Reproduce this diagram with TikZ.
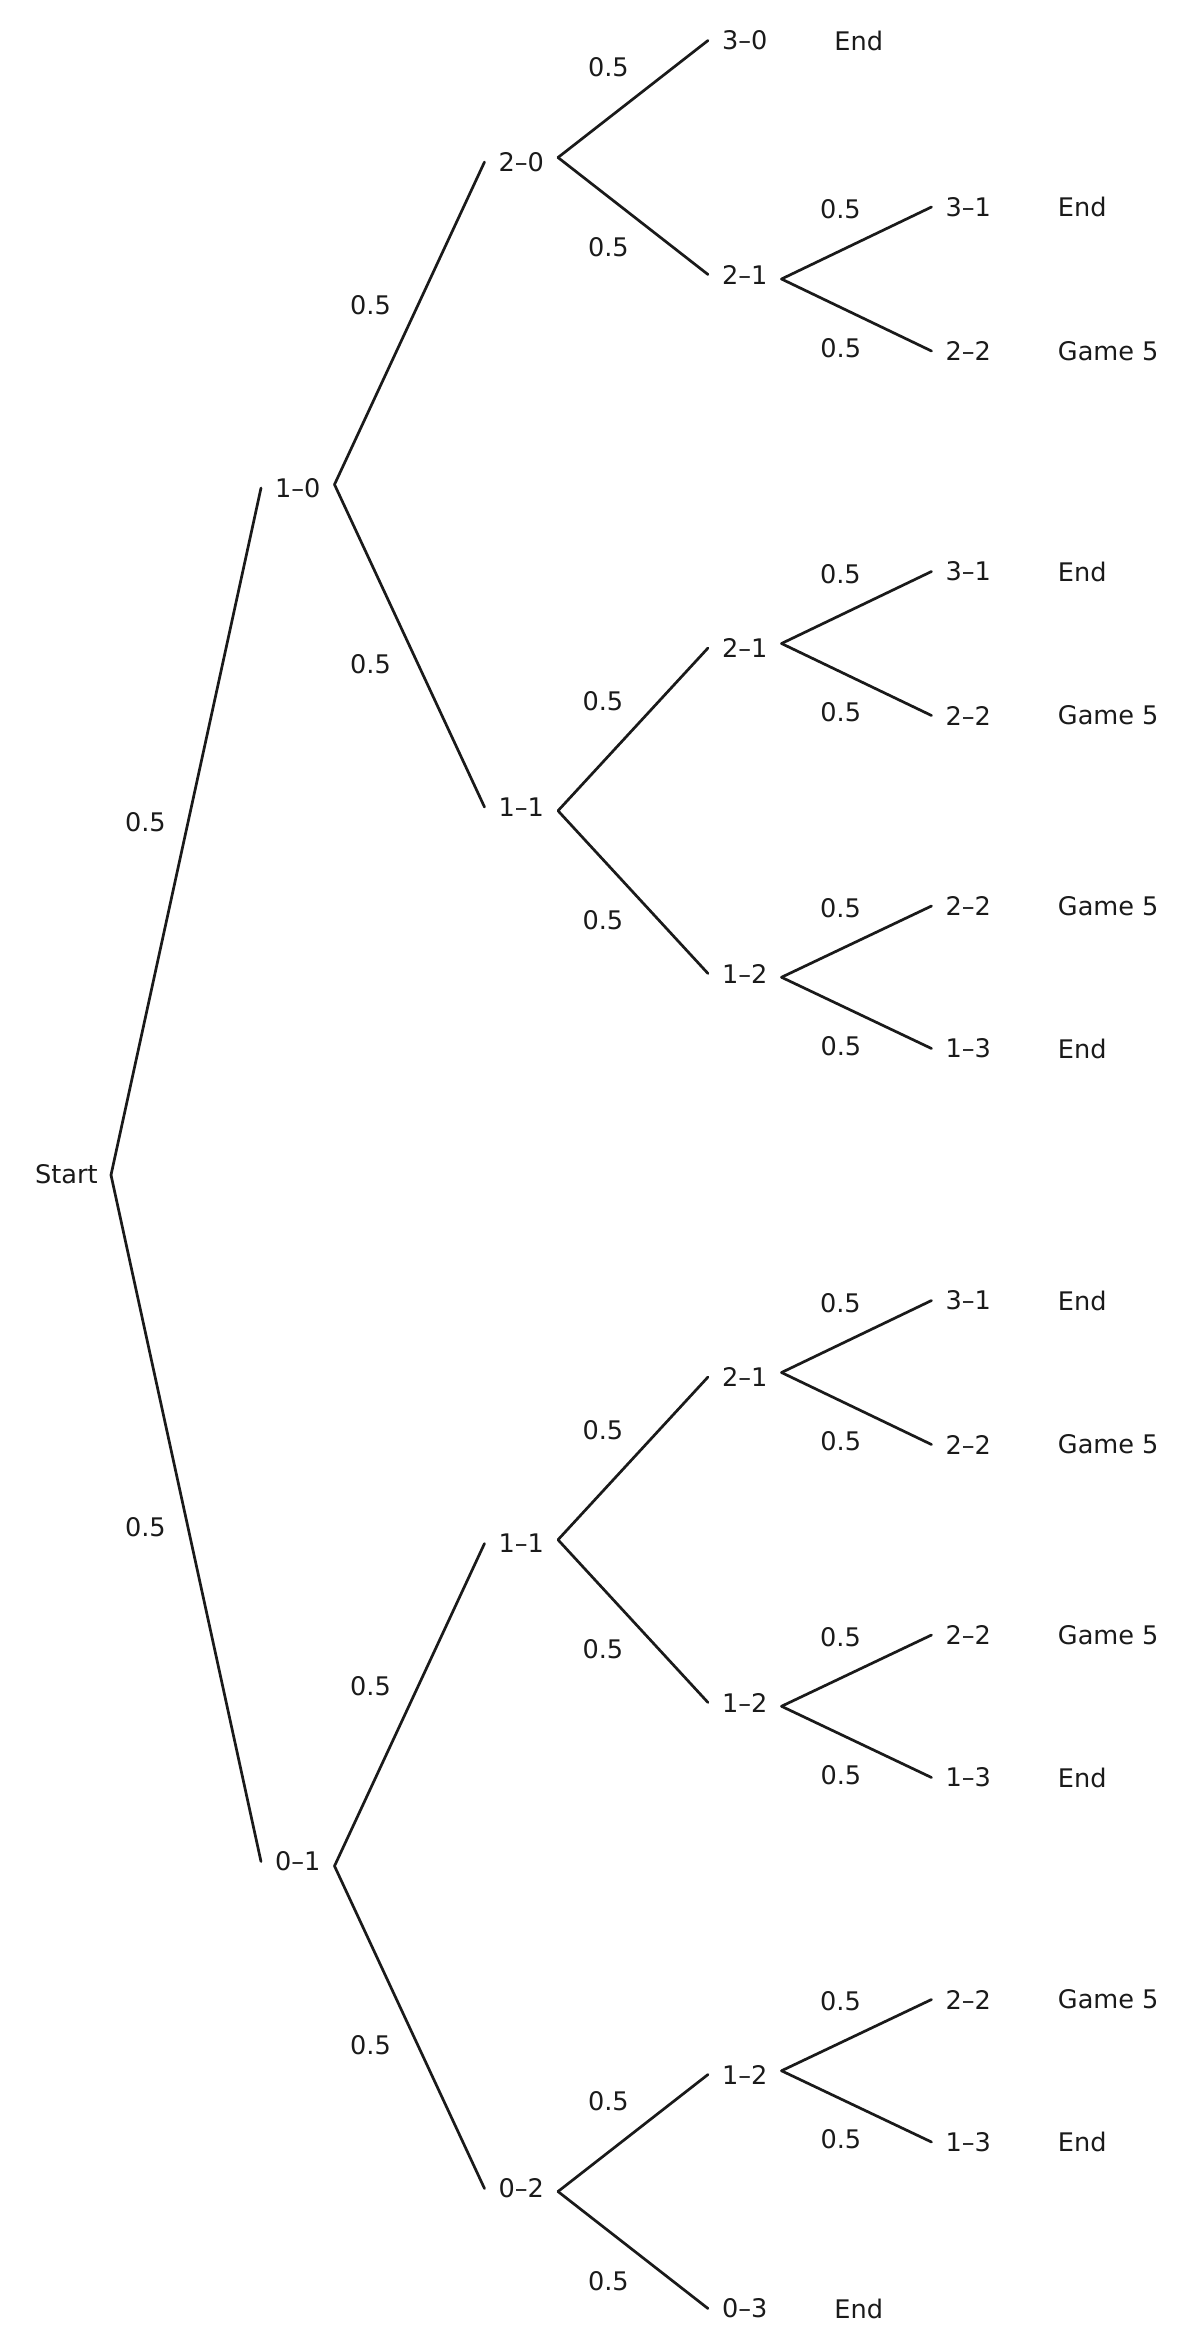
\documentclass[tikz,border=0pt]{standalone}
\usepackage{fontspec}
\setmainfont{DejaVu Sans}
\usetikzlibrary{calc}
\definecolor{ink}{HTML}{1A1A1A}
\tikzset{
  conn/.style={draw=ink, line width=1.35pt, line cap=round, line join=round},
  txt/.style={text=ink, font=\fontsize{12.8pt}{15pt}\selectfont},
  state/.style={txt, inner xsep=7pt, inner ysep=0pt, outer sep=0pt, anchor=west},
  result/.style={txt, inner sep=0pt, anchor=west},
  prob/.style={txt, inner sep=0pt},
}
% \tedge{vertex}{child node}{angle}{distance}{label name}
\newcommand\tedge[5]{%
  \draw[conn] (#1) -- (#2.west);
  \node[prob] (#5) at ($(#1)!0.5!(#2.west)!#4!#3:(#2.west)$) {0.5};}
\begin{document}
\begin{tikzpicture}[x=0.5pt, y=-0.5pt]
\useasboundingbox (0,0) rectangle (1192,2351);
% ---------- start ----------
\coordinate (vs) at (111,1175);
\node[txt, inner xsep=6.5pt, inner ysep=0pt, anchor=east] (start) at (111,1174) {Start};
% ---------- level 1 ----------
\node[state] (a) at (261,488) {1–0};
\node[state] (b) at (261,1861.5) {0–1};
\coordinate (va) at (334.5,484.5);
\coordinate (vb) at (334.5,1866);
% ---------- level 2 ----------
\node[state] (aa) at (484.5,162) {2–0};
\node[state] (ab) at (484.5,807) {1–1};
\node[state] (ba) at (484.5,1543.5) {1–1};
\node[state] (bb) at (484.5,2188.5) {0–2};
\coordinate (vaa) at (558,157.5);
\coordinate (vab) at (558,810.75);
\coordinate (vba) at (558,1539.75);
\coordinate (vbb) at (558,2191.5);
% ---------- level 3 ----------
\node[state] (aaa) at (708,40.5) {3–0};
\node[state] (aab) at (708,274.5) {2–1};
\node[state] (aba) at (708,648) {2–1};
\node[state] (abb) at (708,973.5) {1–2};
\node[state] (baa) at (708,1377) {2–1};
\node[state] (bab) at (708,1702.5) {1–2};
\node[state] (bba) at (708,2074.5) {1–2};
\node[state] (bbb) at (708,2308.5) {0–3};
\coordinate (vaab) at (781.5,279);
\coordinate (vaba) at (781.5,643.5);
\coordinate (vabb) at (781.5,977.25);
\coordinate (vbaa) at (781.5,1372.5);
\coordinate (vbab) at (781.5,1706.25);
\coordinate (vbba) at (781.5,2070.75);
% ---------- level 4 ----------
\node[state] (aaba) at (931.5,207) {3–1};
\node[state] (aabb) at (931.5,351) {2–2};
\node[state] (abaa) at (931.5,571.5) {3–1};
\node[state] (abab) at (931.5,715.5) {2–2};
\node[state] (abba) at (931.5,906) {2–2};
\node[state] (abbb) at (931.5,1048.5) {1–3};
\node[state] (baaa) at (931.5,1300.5) {3–1};
\node[state] (baab) at (931.5,1444.5) {2–2};
\node[state] (baba) at (931.5,1635) {2–2};
\node[state] (babb) at (931.5,1777.5) {1–3};
\node[state] (bbaa) at (931.5,1999.5) {2–2};
\node[state] (bbab) at (931.5,2142) {1–3};
% ---------- outcomes ----------
\node[result] (r-aaa)  at ([xshift=63pt]aaa.west)  {End};
\node[result] (r-bbb)  at ([xshift=63pt]bbb.west)  {End};
\node[result] (r-aaba) at ([xshift=63pt]aaba.west) {End};
\node[result] (r-aabb) at ([xshift=63pt]aabb.west) {Game 5};
\node[result] (r-abaa) at ([xshift=63pt]abaa.west) {End};
\node[result] (r-abab) at ([xshift=63pt]abab.west) {Game 5};
\node[result] (r-abba) at ([xshift=63pt]abba.west) {Game 5};
\node[result] (r-abbb) at ([xshift=63pt]abbb.west) {End};
\node[result] (r-baaa) at ([xshift=63pt]baaa.west) {End};
\node[result] (r-baab) at ([xshift=63pt]baab.west) {Game 5};
\node[result] (r-baba) at ([xshift=63pt]baba.west) {Game 5};
\node[result] (r-babb) at ([xshift=63pt]babb.west) {End};
\node[result] (r-bbaa) at ([xshift=63pt]bbaa.west) {Game 5};
\node[result] (r-bbab) at ([xshift=63pt]bbab.west) {End};
% ---------- connectors ----------
\tedge{vs}{a}{90}{20.8pt}{p1}
\tedge{vs}{b}{-90}{20.8pt}{p2}
\tedge{va}{aa}{90}{21.5pt}{p3}
\tedge{va}{ab}{-90}{21.5pt}{p4}
\tedge{vb}{ba}{90}{21.5pt}{p5}
\tedge{vb}{bb}{-90}{21.5pt}{p6}
\tedge{vaa}{aaa}{90}{20pt}{p7}
\tedge{vaa}{aab}{-90}{20pt}{p8}
\tedge{vab}{aba}{90}{20.5pt}{p9}
\tedge{vab}{abb}{-90}{20.5pt}{p10}
\tedge{vba}{baa}{90}{20.5pt}{p11}
\tedge{vba}{bab}{-90}{20.5pt}{p12}
\tedge{vbb}{bba}{90}{20pt}{p13}
\tedge{vbb}{bbb}{-90}{20pt}{p14}
\tedge{vaab}{aaba}{90}{18.6pt}{p15}
\tedge{vaab}{aabb}{-90}{18.2pt}{p16}
\tedge{vaba}{abaa}{90}{18.6pt}{p17}
\tedge{vaba}{abab}{-90}{18.2pt}{p18}
\tedge{vabb}{abba}{90}{18.6pt}{p19}
\tedge{vabb}{abbb}{-90}{18.2pt}{p20}
\tedge{vbaa}{baaa}{90}{18.6pt}{p21}
\tedge{vbaa}{baab}{-90}{18.2pt}{p22}
\tedge{vbab}{baba}{90}{18.6pt}{p23}
\tedge{vbab}{babb}{-90}{18.2pt}{p24}
\tedge{vbba}{bbaa}{90}{18.6pt}{p25}
\tedge{vbba}{bbab}{-90}{18.2pt}{p26}
\end{tikzpicture}
\end{document}
